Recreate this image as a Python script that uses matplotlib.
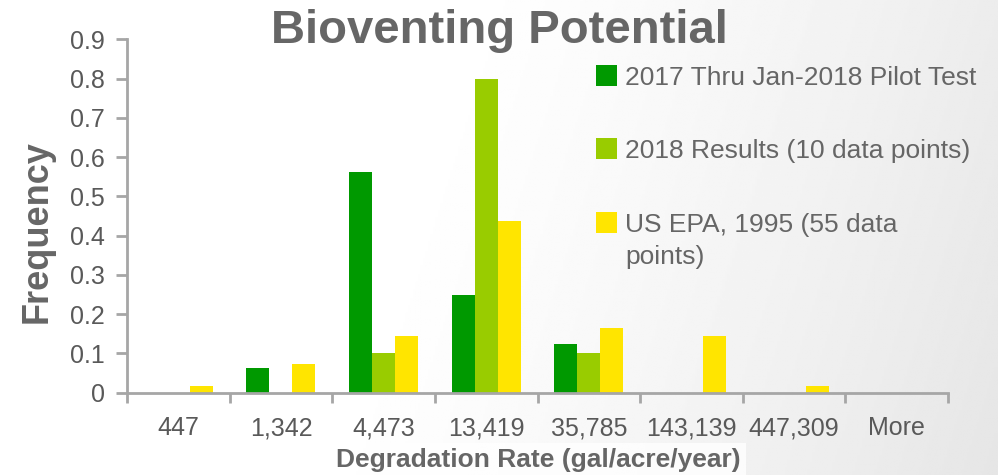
import numpy as np
import matplotlib.pyplot as plt
from matplotlib.patches import Rectangle

# Histogram bins (upper bin edges) and relative frequencies per data set
bins = ["447", "1,342", "4,473", "13,419", "35,785", "143,139", "447,309", "More"]
pilot_2017 = [0.0, 0.0625, 0.5625, 0.25, 0.125, 0.0, 0.0, 0.0]
results_2018 = [0.0, 0.0, 0.1, 0.8, 0.1, 0.0, 0.0, 0.0]
epa_1995 = [0.018, 0.073, 0.145, 0.436, 0.164, 0.145, 0.018, 0.0]

series_labels = ["2017 Thru Jan-2018 Pilot Test",
                 "2018 Results (10 data points)",
                 "US EPA, 1995 (55 data\npoints)"]
series_colors = ["#009900", "#99CC00", "#FFE500"]

FONT = "Liberation Sans"
TEXT_GRAY = "#666666"
AXIS_GRAY = "#A6A6A6"

W, H = 998, 475
fig = plt.figure(figsize=(W / 100, H / 100), dpi=100)

# Slide background: white on the left fading to light grey on the right
bg = fig.add_axes([0, 0, 1, 1], zorder=-10)
gx, gy = np.meshgrid(np.linspace(0, 1, 400), np.linspace(0, 1, 200))
t = np.clip((gx - 0.30 - 0.15 * (1 - gy)) / 0.70, 0, 1)
shade = 1.0 - 0.10 * t ** 1.3
bg.imshow(shade, cmap="gray", vmin=0, vmax=1, aspect="auto",
          extent=[0, 1, 0, 1], origin="upper")
bg.axis("off")

ax = fig.add_axes([127 / W, 1 - 392.7 / H, (948 - 127) / W, (392.7 - 39.3) / H])
ax.patch.set_alpha(0)

x = np.arange(len(bins))
bw = 0.224
for i, (vals, col) in enumerate(zip([pilot_2017, results_2018, epa_1995], series_colors)):
    ax.bar(x + (i - 1) * bw, vals, width=bw, color=col, linewidth=0)

ax.set_xlim(-0.5, len(bins) - 0.5)
ax.set_ylim(0, 0.9)
ax.set_yticks(np.arange(0, 0.91, 0.1))
ax.set_yticklabels(["0"] + [f"{v:.1f}" for v in np.arange(0.1, 0.91, 0.1)])

# boundary ticks on the category axis, labels centred under each bin
ax.set_xticks(np.arange(-0.5, len(bins), 1.0))
ax.set_xticklabels([])
ax.set_xticks(x, minor=True)
ax.set_xticklabels(bins, minor=True)
ax.tick_params(axis="x", which="major", length=7, width=2, color=AXIS_GRAY, direction="out")
ax.tick_params(axis="x", which="minor", length=0, pad=17, labelsize=18, labelcolor="#595959")
ax.tick_params(axis="y", length=8, width=2, color=AXIS_GRAY, pad=8,
               labelsize=18, labelcolor="#595959")
for lab in ax.get_xticklabels(minor=True) + ax.get_yticklabels():
    lab.set_fontfamily(FONT)

for side in ["top", "right"]:
    ax.spines[side].set_visible(False)
for side in ["left", "bottom"]:
    ax.spines[side].set_color(AXIS_GRAY)
    ax.spines[side].set_linewidth(2)

fig.text(0.5, 1 - 43 / H, "Bioventing Potential", ha="center", va="baseline",
         fontsize=34, fontweight="bold", color=TEXT_GRAY, family=FONT)
fig.text(538 / W, 1 - 467 / H, "Degradation Rate (gal/acre/year)", ha="center",
         va="baseline", fontsize=19, fontweight="bold", color=TEXT_GRAY, family=FONT,
         zorder=-5,
         bbox=dict(boxstyle="square,pad=0.2", facecolor="white", edgecolor="none", alpha=0.8))
fig.text(37 / W, 1 - 232 / H, "Frequency", rotation=90, ha="center", va="center",
         fontsize=26, fontweight="bold", color=TEXT_GRAY, family=FONT)

# Legend on the right: square swatch + label, first text line level with the swatch
swatch_tops = [65, 138, 212]
for top, lab, col in zip(swatch_tops, series_labels, series_colors):
    fig.patches.append(Rectangle((596 / W, 1 - (top + 21) / H), 21 / W, 21 / H,
                                 transform=fig.transFigure, facecolor=col,
                                 edgecolor="none"))
    fig.text(625 / W, 1 - (top + 1) / H, lab, ha="left", va="top",
             fontsize=19, color=TEXT_GRAY, family=FONT, linespacing=1.4)

fig.savefig("out.png", dpi=100)
